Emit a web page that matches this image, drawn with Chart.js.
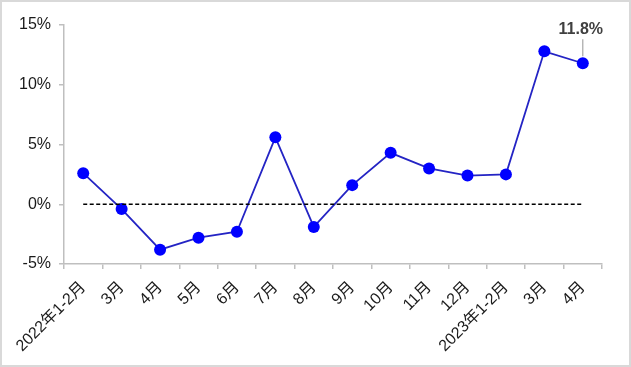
<!DOCTYPE html>
<html><head><meta charset="utf-8">
<script src="https://cdn.jsdelivr.net/npm/chart.js@4"></script>
<style>html,body{margin:0;padding:0;background:#fff}#wrap{width:631px;height:367px;position:relative}</style>
</head><body><div id="wrap"><canvas id="c"></canvas></div>
<script>
const categories = ['2022年1-2月','3月','4月','5月','6月','7月','8月','9月','10月','11月','12月','2023年1-2月','3月','4月'];
const values = [2.6,-0.4,-3.8,-2.8,-2.3,5.6,-1.9,1.6,4.3,3.0,2.4,2.5,12.8,11.8];
const baseline = categories.map(()=>0);
const yTicks = [-5,0,5,10,15];
const labelIndex = 13;
const labelText = '11.8%';

const FONT = '"Liberation Sans", Arial, "Noto Sans CJK SC", sans-serif';

const framePlugin = {
  id:'frame',
  beforeDraw(chart){
    const c = chart.ctx;
    c.save();
    c.fillStyle='#fff';
    c.fillRect(0,0,chart.width,chart.height);
    c.strokeStyle='#d9d9d9';
    c.lineWidth=2;
    c.strokeRect(1,1,chart.width-2,chart.height-2);
    c.restore();
  },
  afterDatasetsDraw(chart){
    const meta = chart.getDatasetMeta(1);
    const p = meta.data[labelIndex];
    const c = chart.ctx;
    c.save();
    c.strokeStyle='#a6a6a6';
    c.lineWidth=1.2;
    c.beginPath();
    c.moveTo(p.x, p.y-7);
    c.lineTo(p.x, p.y-24);
    c.stroke();
    c.fillStyle='#404040';
    c.font='bold 16px '+FONT;
    c.textAlign='center';
    c.textBaseline='middle';
    c.fillText(labelText, p.x-2, p.y-34);
    c.restore();
  }
};

new Chart(document.getElementById('c'), {
  type:'line',
  data:{
    labels:categories,
    datasets:[
      {data:baseline, borderColor:'#000', borderWidth:1.5, borderDash:[4,2.5], pointRadius:0, fill:false},
      {data:values, borderColor:'#2424c4', borderWidth:1.8, pointRadius:6, pointHoverRadius:6,
       pointBackgroundColor:'#0000ff', pointBorderColor:'#0000ff', pointBorderWidth:0, fill:false, tension:0}
    ]
  },
  options:{
    responsive:true, maintainAspectRatio:false, animation:false,
    layout:{padding:{top:25,right:29,left:0,bottom:0}},
    plugins:{legend:{display:false}, tooltip:{enabled:false}},
    scales:{
      x:{
        offset:true,
        grid:{display:true, offset:true, drawOnChartArea:false, tickLength:5, color:'#bfbfbf', lineWidth:1.5},
        border:{display:true, color:'#bfbfbf', width:1.5},
        ticks:{color:'#1a1a1a', font:{size:16, family:FONT}, maxRotation:45, minRotation:45, autoSkip:false, padding:9},
        afterFit(s){ s.height = 103; }
      },
      y:{
        min:-5, max:15,
        afterBuildTicks(s){ s.ticks = yTicks.map(v=>({value:v})); },
        grid:{display:true, drawOnChartArea:false, tickLength:5, color:'#bfbfbf', lineWidth:1.5},
        border:{display:true, color:'#bfbfbf', width:1.5},
        ticks:{color:'#1a1a1a', font:{size:16, family:FONT}, padding:8, callback:v=>v+'%'},
        afterFit(s){ s.width = 64; }
      }
    }
  },
  plugins:[framePlugin]
});
</script>
</body></html>
